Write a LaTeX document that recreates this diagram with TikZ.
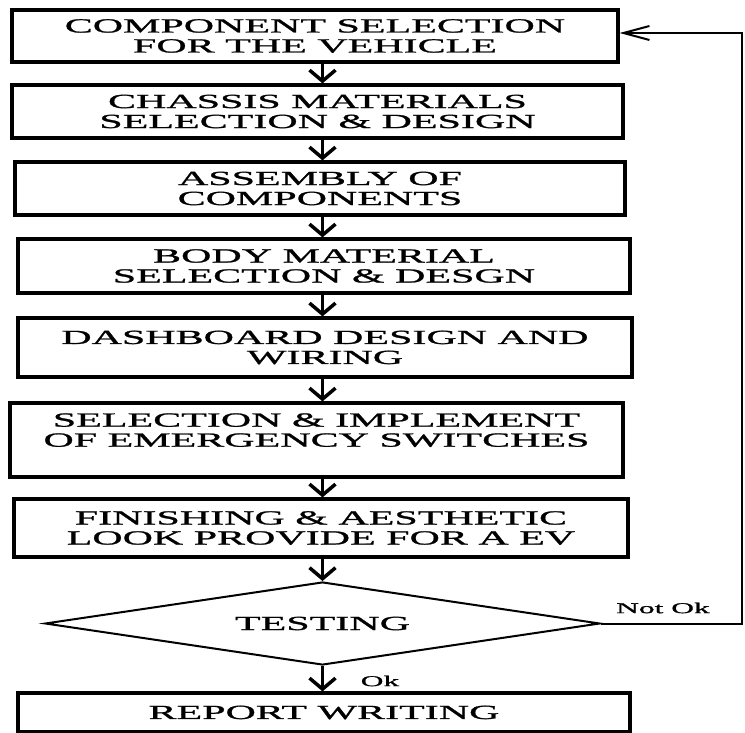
\documentclass[tikz,border=0pt]{standalone}
\usepackage{fontspec}
\setmainfont[FakeStretch=2.1,FakeBold=1.2]{Liberation Serif}
\usetikzlibrary{shapes.geometric,arrows.meta}
\begin{document}
\begin{tikzpicture}[x=1pt,y=-1pt,
    stage/.style={draw,line width=3.2pt,align=center,inner sep=0pt,
        font=\fontsize{20}{20}\selectfont},
    flow/.style={line width=3.5pt,-{Straight Barb[length=11pt,width=26pt]}},
    back/.style={line width=2pt},
    lbl/.style={font=\fontsize{15}{15}\selectfont,inner sep=0pt}]
    \useasboundingbox (0,0) rectangle (745,733);
    \node[stage,minimum width=606,minimum height=52] (comp) at (315,36)
        {COMPONENT SELECTION\\FOR THE VEHICLE};
    \node[stage,minimum width=611,minimum height=53] (chassis) at (317.5,111.5)
        {CHASSIS MATERIALS\\SELECTION \& DESIGN};
    \node[stage,minimum width=610,minimum height=53] (assembly) at (320,188.5)
        {ASSEMBLY OF\\COMPONENTS};
    \node[stage,minimum width=612,minimum height=54] (body) at (324,266)
        {BODY MATERIAL\\SELECTION \& DESGN};
    \node[stage,minimum width=614,minimum height=59] (dash) at (325,347.5)
        {DASHBOARD DESIGN AND\\WIRING};
    \node[stage,minimum width=613,minimum height=74] (switch) at (316.5,440)
        {SELECTION \& IMPLEMENT\\OF EMERGENCY SWITCHES\\\mbox{}};
    \node[stage,minimum width=614,minimum height=58] (finish) at (321,528)
        {FINISHING \& AESTHETIC\\LOOK PROVIDE FOR A EV};
    \node[diamond,draw,line width=2pt,inner sep=0pt,aspect=6.7,minimum width=555,
        minimum height=83,font=\fontsize{20}{20}\selectfont] (test) at (322.5,623.5) {TESTING};
    \node[stage,minimum width=612,minimum height=39] (report) at (324,712.5)
        {REPORT WRITING};
    %arrows
    \draw[flow] (comp.south -| test) -- (chassis.north -| test);
    \draw[flow] (chassis.south -| test) -- (assembly.north -| test);
    \draw[flow] (assembly.south -| test) -- (body.north -| test);
    \draw[flow] (body.south -| test) -- (dash.north -| test);
    \draw[flow] (dash.south -| test) -- (switch.north -| test);
    \draw[flow] (switch.south -| test) -- (finish.north -| test);
    \draw[flow] (finish.south -| test) -- (test.north);
    \draw[flow] (test.south) -- (report.north -| test);
    %loop back
    \coordinate (loop) at (742,33);
    \draw[back,-{Straight Barb[length=26pt,width=14pt]}] (test.east) -- (test.east -| loop)
        -- (loop) -- (loop -| comp.east);
    \node[lbl] (notok) at (663,608) {Not Ok};
    \node[lbl] (ok) at (380,681) {Ok};
\end{tikzpicture}
\end{document}
